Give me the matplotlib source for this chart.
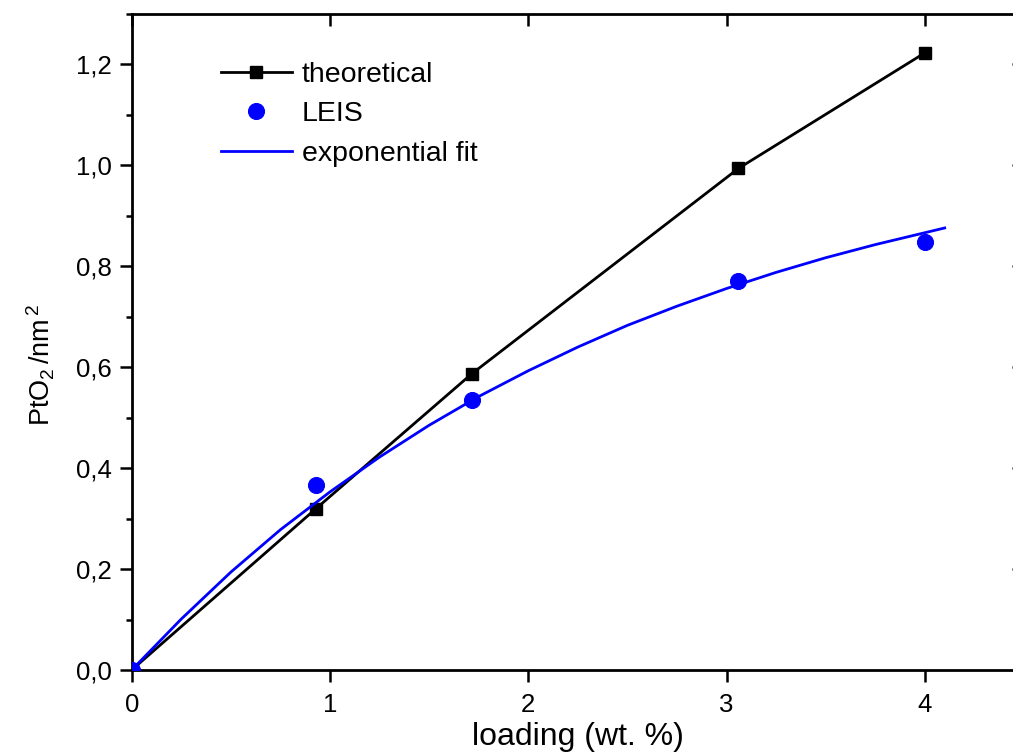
import matplotlib
matplotlib.use("Agg")
import matplotlib.pyplot as plt
from matplotlib.ticker import FixedLocator, MultipleLocator

plt.rcParams['font.family'] = ['Liberation Sans', 'DejaVu Sans']
plt.rcParams['mathtext.fontset'] = 'custom'
plt.rcParams['mathtext.rm'] = 'Liberation Sans'
plt.rcParams['mathtext.it'] = 'Liberation Sans:italic'

# ---- data ----
loading = [0.0, 0.93, 1.715, 3.06, 4.0]
theoretical = [0.0, 0.320, 0.587, 0.994, 1.223]
leis = [0.0, 0.367, 0.536, 0.770, 0.848]

fit_x = [0.0, 0.25, 0.5, 0.75, 1.0, 1.25, 1.5, 1.75, 2.0, 2.25, 2.5, 2.75,
         3.0, 3.25, 3.5, 3.75, 4.1]
fit_y = [0.0, 0.101, 0.194, 0.278, 0.353, 0.422, 0.485, 0.542, 0.593, 0.640,
         0.683, 0.721, 0.756, 0.788, 0.817, 0.843, 0.876]

xticks = [0, 1, 2, 3, 4]
xticklabels = ['0', '1', '2', '3', '4']
yticks = [0.0, 0.2, 0.4, 0.6, 0.8, 1.0, 1.2]
yticklabels = ['0,0', '0,2', '0,4', '0,6', '0,8', '1,0', '1,2']

W, H = 1013, 753
fig = plt.figure(figsize=(W / 100, H / 100), dpi=100)
left_px, right_px, top_px, bottom_px = 131.7, 1024, 14, 670
ax = fig.add_axes([left_px / W, 1 - bottom_px / H,
                   (right_px - left_px) / W, (bottom_px - top_px) / H])

ax.plot(loading, theoretical, color='black', lw=2.0, marker='s', ms=9,
        mew=1, mfc='black', mec='black', label='theoretical', zorder=3)
ax.plot(loading, leis, linestyle='none', marker='o', ms=11.5, mew=0.8,
        mfc='#0000FF', mec='#0000FF', label='LEIS', zorder=4)
ax.plot(fit_x, fit_y, color='#0000FF', lw=2.0, label='exponential fit', zorder=5)

ax.set_xlim(0, 4.5)
ax.set_ylim(0, 1.3)

ax.xaxis.set_major_locator(FixedLocator(xticks))
ax.set_xticklabels(xticklabels)
ax.yaxis.set_major_locator(FixedLocator(yticks))
ax.set_yticklabels(yticklabels)
ax.yaxis.set_minor_locator(MultipleLocator(0.1))

for s in ax.spines.values():
    s.set_linewidth(2.0)

ax.tick_params(axis='both', which='major', labelsize=18.5, length=8.6, width=1.8,
               direction='out', colors='black')
ax.tick_params(axis='x', which='major', pad=8)
ax.tick_params(axis='y', which='major', pad=6)
ax.tick_params(axis='y', which='minor', length=4.3, width=1.8, direction='out')
ax.tick_params(axis='x', which='minor', bottom=False)

# inward ticks on top and right (no labels)
ax_top = ax.secondary_xaxis('top')
ax_top.set_xticks(xticks)
ax_top.tick_params(direction='in', length=8.6, width=1.8, labeltop=False)
ax_top.set_xticklabels([])
ax_top.spines['top'].set_visible(False)
ax_right = ax.secondary_yaxis('right')
ax_right.set_yticks(yticks)
ax_right.tick_params(direction='in', length=8.6, width=1.8, labelright=False)
ax_right.set_yticklabels([])
ax_right.spines['right'].set_visible(False)

ax.set_xlabel('loading (wt. %)', fontsize=23)
ax.xaxis.set_label_coords(0.5, -0.079)
ax.set_ylabel(r'PtO$_{\mathrm{2}}\,$/nm$^{\,\mathrm{2}}$', fontsize=19.5)
ax.yaxis.set_label_coords(-0.084, 0.465)

leg = ax.legend(loc='upper left', bbox_to_anchor=(0.1, 0.927), frameon=False,
                fontsize=20.5, handlelength=2.49, handletextpad=0.35,
                labelspacing=0.47, borderpad=0, borderaxespad=0)

fig.savefig('out.png', dpi=100)
